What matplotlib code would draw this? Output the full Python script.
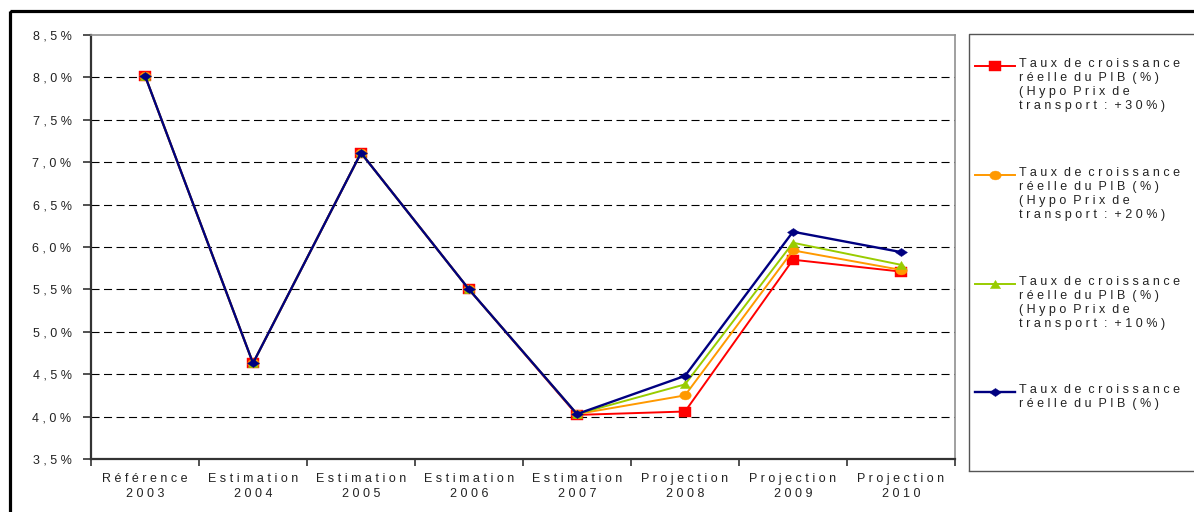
import numpy as np
import matplotlib
matplotlib.use("Agg")
import matplotlib.pyplot as plt
from matplotlib.path import Path
from matplotlib.lines import Line2D
from matplotlib.patches import Rectangle

plt.rcParams['font.family'] = ['Liberation Sans', 'DejaVu Sans']
plt.rcParams['lines.scale_dashes'] = False

# ---- data -------------------------------------------------------------
categories = ["Référence\n2003", "Estimation\n2004", "Estimation\n2005", "Estimation\n2006",
              "Estimation\n2007", "Projection\n2008", "Projection\n2009", "Projection\n2010"]

pib_30 = [8.02, 4.63, 7.11, 5.50, 4.02, 4.06, 5.85, 5.71]
pib_20 = [8.02, 4.63, 7.11, 5.50, 4.03, 4.25, 5.96, 5.73]
pib_10 = [8.02, 4.63, 7.11, 5.50, 4.03, 4.38, 6.05, 5.79]
pib_base = [8.02, 4.63, 7.11, 5.50, 4.03, 4.48, 6.18, 5.94]

series_labels = [
    "Taux de croissance\nréelle du PIB (%)\n(Hypo Prix de\ntransport : +30%)",
    "Taux de croissance\nréelle du PIB (%)\n(Hypo Prix de\ntransport : +20%)",
    "Taux de croissance\nréelle du PIB (%)\n(Hypo Prix de\ntransport : +10%)",
    "Taux de croissance\nréelle du PIB (%)",
]
y_ticks = [3.5, 4.0, 4.5, 5.0, 5.5, 6.0, 6.5, 7.0, 7.5, 8.0, 8.5]


def spaced(s):
    """Wide letter spacing, as in the spreadsheet rendering."""
    lines = []
    for line in s.split("\n"):
        lines.append("  ".join(" ".join(w) for w in line.split(" ")))
    return "\n".join(lines)


def pct(v):
    return spaced(f"{v:.1f}".replace(".", ",") + "%")


def poly(pts):
    pts = list(pts) + [pts[0]]
    codes = [Path.MOVETO] + [Path.LINETO] * (len(pts) - 2) + [Path.CLOSEPOLY]
    return Path(pts, codes)


# markers slightly wider than tall, like the spreadsheet rendering
sq_m = poly([(-1, -0.75), (1, -0.75), (1, 0.75), (-1, 0.75)])
circ = Path.unit_circle()
circ_m = Path(circ.vertices * np.array([1.0, 0.78]), circ.codes)
tri_m = poly([(-1, -0.8), (1, -0.8), (0, 0.8)])
dia_m = poly([(-1, 0), (0, 0.68), (1, 0), (0, -0.68)])

styles = [
    dict(color="#FF0000", marker=sq_m, ms=9.0, lw=1.4),
    dict(color="#FF9900", marker=circ_m, ms=8.2, lw=1.4),
    dict(color="#99CC00", marker=tri_m, ms=7.4, lw=1.4),
    dict(color="#000080", marker=dia_m, ms=8.6, lw=1.7),
]
all_series = [pib_30, pib_20, pib_10, pib_base]

W, H = 1194, 512
FS = 9
fig = plt.figure(figsize=(W / 100, H / 100), dpi=100)
fig.patch.set_facecolor("white")

# background overlay in pixel coordinates (frame + legend)
bg = fig.add_axes([0, 0, 1, 1], zorder=0)
bg.set_xlim(0, W)
bg.set_ylim(H, 0)
bg.axis("off")
bg.add_patch(Rectangle((9.5, 11), W + 20, H + 20, fill=False, ec="black", lw=2.3))

# ---- main plot --------------------------------------------------------
L, R, T, B = 91, 955, 35, 459
ax = fig.add_axes([L / W, 1 - B / H, (R - L) / W, (B - T) / H], zorder=2)
ax.set_facecolor("white")
x = np.arange(len(categories))
for vals, st in zip(all_series, styles):
    ax.plot(x, vals, color=st["color"], lw=st["lw"], marker=st["marker"],
            ms=st["ms"], mfc=st["color"], mec=st["color"], mew=0.3,
            solid_joinstyle="miter")

ax.set_xlim(-0.5, len(categories) - 0.5)
ax.set_ylim(3.5, 8.5)
ax.set_yticks(y_ticks)
ax.set_yticklabels([pct(v) for v in y_ticks], fontsize=FS, color="#222222")
ax.set_xticks(np.arange(-0.5, len(categories), 1.0))
ax.set_xticklabels([])
ax.set_xticks(x, minor=True)
ax.set_xticklabels([spaced(c) for c in categories], minor=True, fontsize=FS,
                   color="#222222", linespacing=1.38)
ax.tick_params(axis="x", which="major", direction="out", length=5, width=1.2, color="#333333")
ax.tick_params(axis="x", which="minor", length=0, pad=10)
ax.tick_params(axis="y", direction="out", length=6, width=1.2, color="#333333", pad=8)

for yv in y_ticks[1:-1]:
    ax.axhline(yv, color="black", lw=0.8, ls=(0, (5.8, 3.2)), zorder=0.5)

for side in ("left", "bottom"):
    ax.spines[side].set_color("#333333")
    ax.spines[side].set_linewidth(1.6)
for side in ("top", "right"):
    ax.spines[side].set_color("#909090")
    ax.spines[side].set_linewidth(1.2)

# ---- legend -----------------------------------------------------------
bg.plot([969, 969, W + 5], [471, 34, 34], color="#555555", lw=1.0, solid_capstyle="butt")
bg.plot([969, W + 5], [471, 471], color="#555555", lw=1.0)
entry_y = [66, 175, 284, 392]
for yy, lab, st in zip(entry_y, series_labels, styles):
    bg.add_line(Line2D([975, 1015], [yy, yy], color=st["color"], lw=st["lw"]))
    bg.add_line(Line2D([995], [yy], color=st["color"], marker=st["marker"],
                       ms=st["ms"], mfc=st["color"], mec=st["color"], mew=0.3))
    bg.text(1019, yy - 8, spaced(lab), fontsize=FS, color="#222222",
            va="top", ha="left", linespacing=1.22)

fig.savefig("out.png", dpi=100, facecolor="white")
